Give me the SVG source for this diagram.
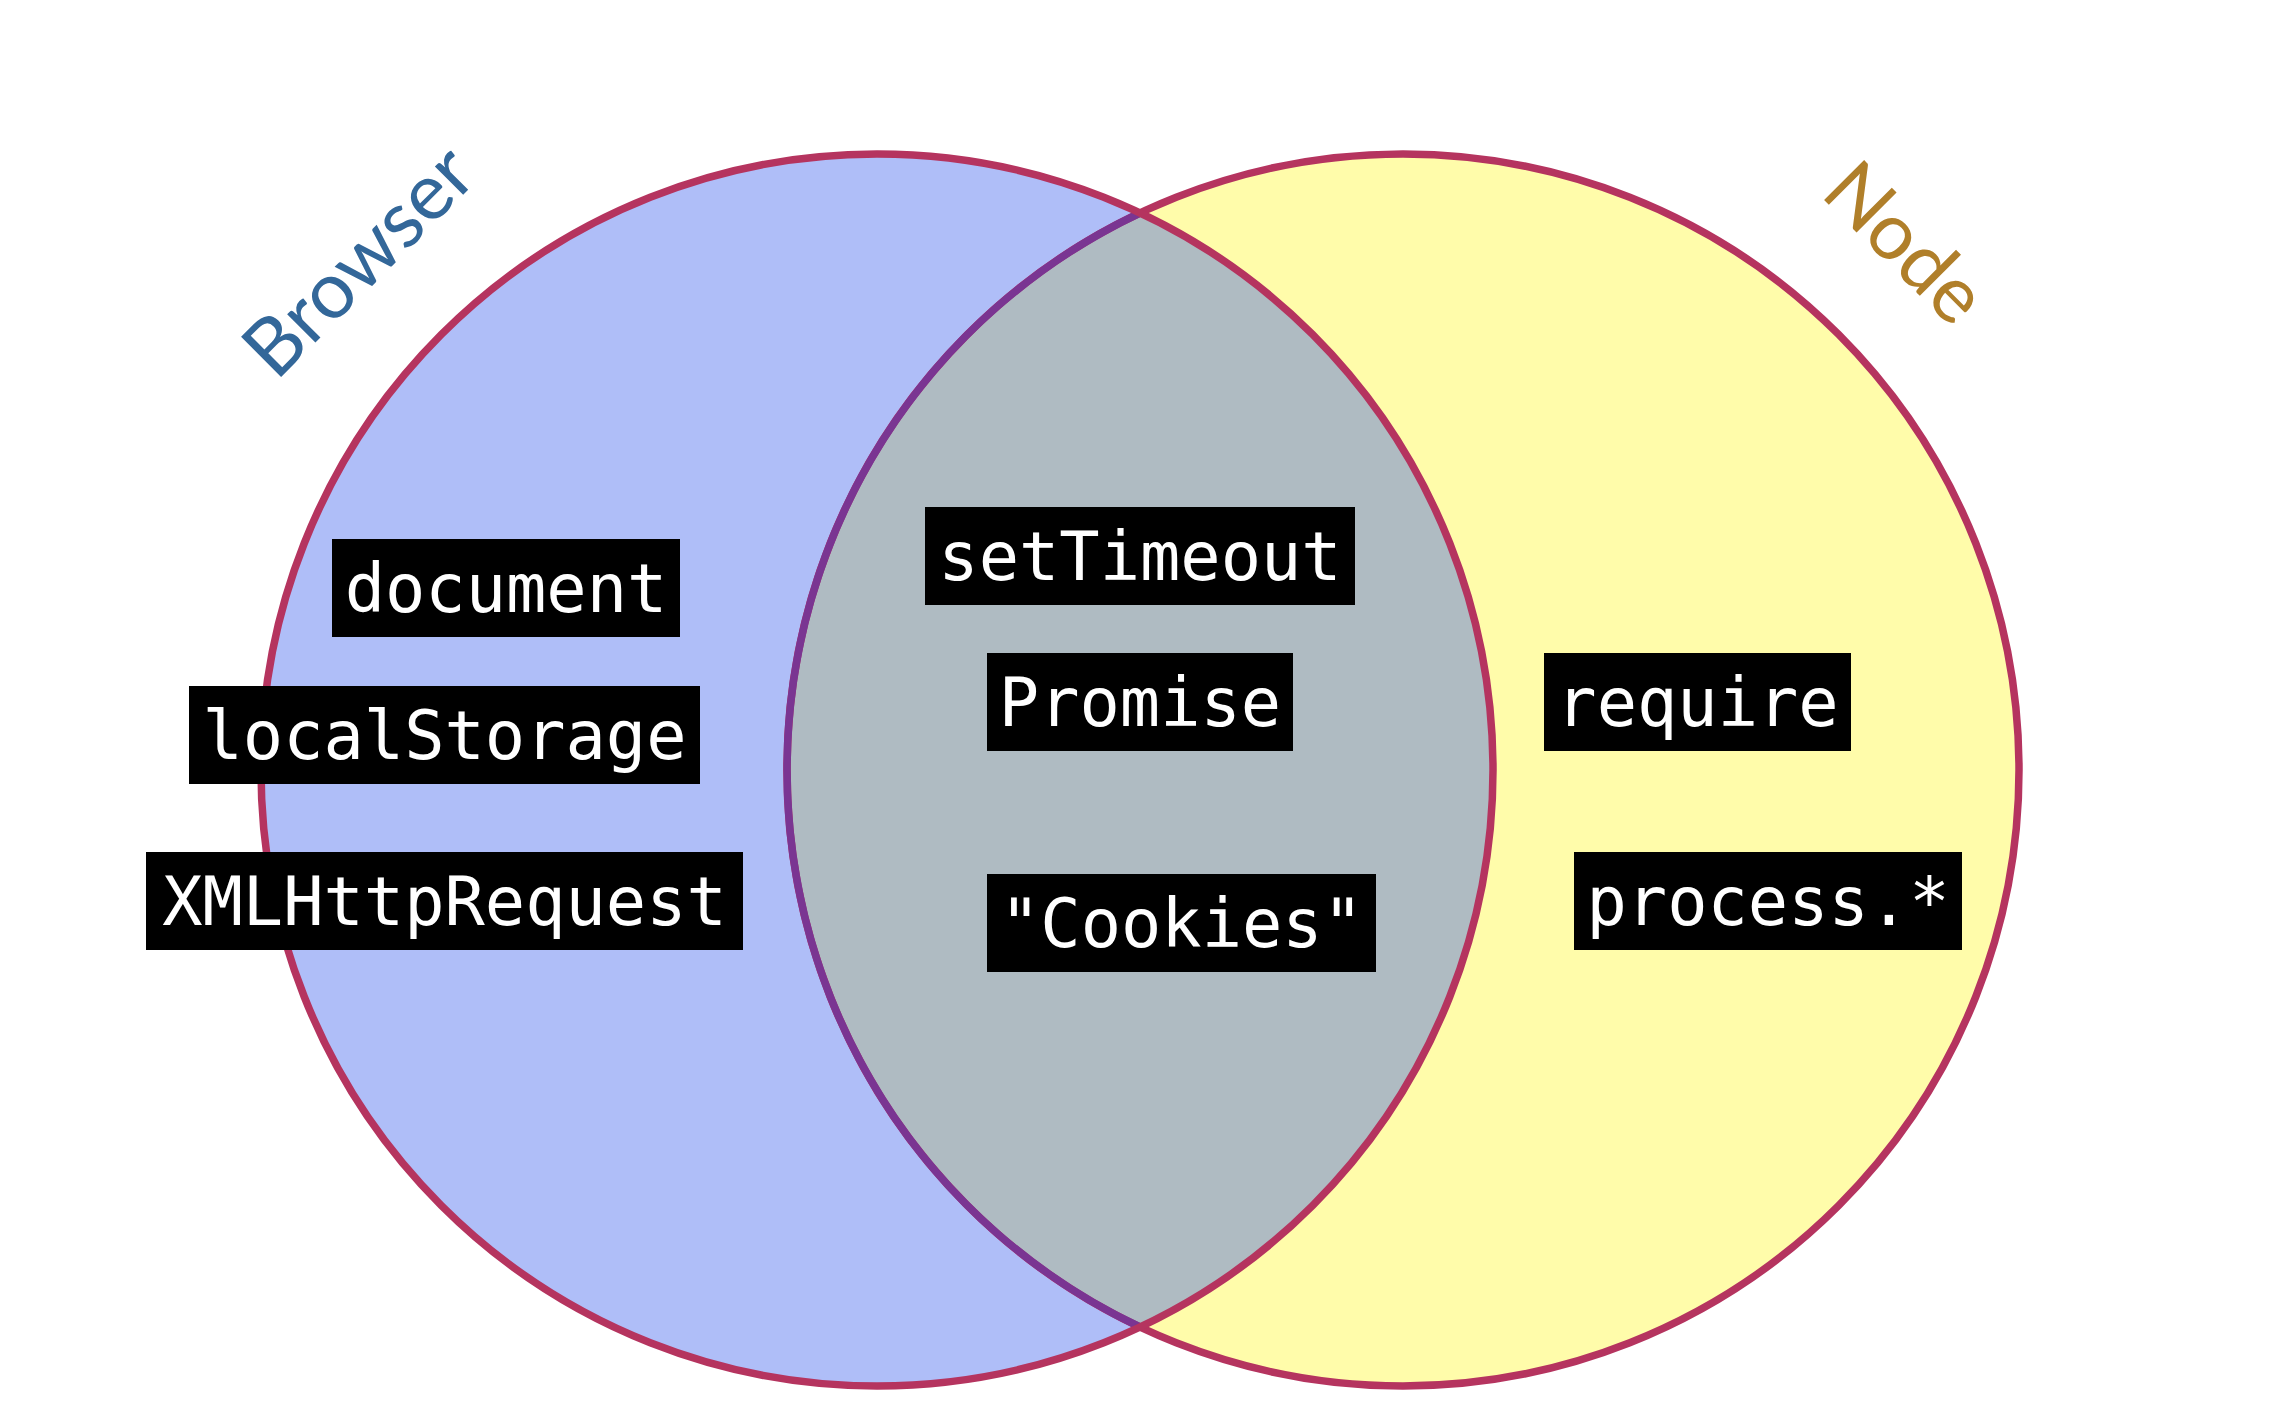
<svg xmlns="http://www.w3.org/2000/svg" width="2292" height="1418" viewBox="0 0 2292 1418">
  <style>
    .ring { fill: none; stroke: #b5345f; stroke-width: 7.5; }
    .inner { fill: none; stroke: #7a3592; stroke-width: 7.5; }
    .box { fill: #000000; }
    .code { font-family: "DejaVu Sans Mono", "Liberation Mono", monospace; font-size: 67px; fill: #ffffff; text-anchor: middle; }
    .set { font-family: Lato, "Open Sans", "Liberation Sans", sans-serif; font-size: 79px; }
  </style>
  <rect width="2292" height="1418" fill="#ffffff"/>
  <g id="browser-set">
    <circle cx="877" cy="770" r="616" fill="#afbef8"/>
  </g>
  <g id="node-set">
    <circle cx="1403" cy="770" r="616" fill="#fffcaa"/>
  </g>
  <g id="overlap">
    <path d="M1140,213 A616,616 0 0 1 1140,1327 A616,616 0 0 1 1140,213 Z" fill="#afbbc2"/>
  </g>
  <g id="outlines">
    <circle class="ring" cx="1403" cy="770" r="616"/>
    <path class="inner" d="M1140,1327 A616,616 0 0 1 1140,213"/>
    <circle class="ring" cx="877" cy="770" r="616"/>
  </g>
  <g id="label-browser">
    <text class="set" x="276" y="382" fill="#336799" transform="rotate(-45 276 382)">Browser</text>
  </g>
  <g id="label-node">
    <text class="set" x="1819" y="195" fill="#b07f2a" transform="rotate(45 1819 195)">Node</text>
  </g>
  <g id="document">
    <rect class="box" x="332" y="539" width="348" height="98"/>
    <text class="code" x="506" y="612">document</text>
  </g>
  <g id="localStorage">
    <rect class="box" x="189" y="686" width="511" height="98"/>
    <text class="code" x="444.5" y="759">localStorage</text>
  </g>
  <g id="XMLHttpRequest">
    <rect class="box" x="146" y="852" width="597" height="98"/>
    <text class="code" x="444.5" y="925">XMLHttpRequest</text>
  </g>
  <g id="setTimeout">
    <rect class="box" x="925" y="507" width="430" height="98"/>
    <text class="code" x="1140" y="580">setTimeout</text>
  </g>
  <g id="Promise">
    <rect class="box" x="987" y="653" width="306" height="98"/>
    <text class="code" x="1140" y="726">Promise</text>
  </g>
  <g id="Cookies">
    <rect class="box" x="987" y="874" width="389" height="98"/>
    <text class="code" x="1181.5" y="947">"Cookies"</text>
  </g>
  <g id="require">
    <rect class="box" x="1544" y="653" width="307" height="98"/>
    <text class="code" x="1697.5" y="726">require</text>
  </g>
  <g id="process">
    <rect class="box" x="1574" y="852" width="388" height="98"/>
    <text class="code" x="1768" y="925">process.*</text>
  </g>
  <g id="connectors"/>
</svg>
